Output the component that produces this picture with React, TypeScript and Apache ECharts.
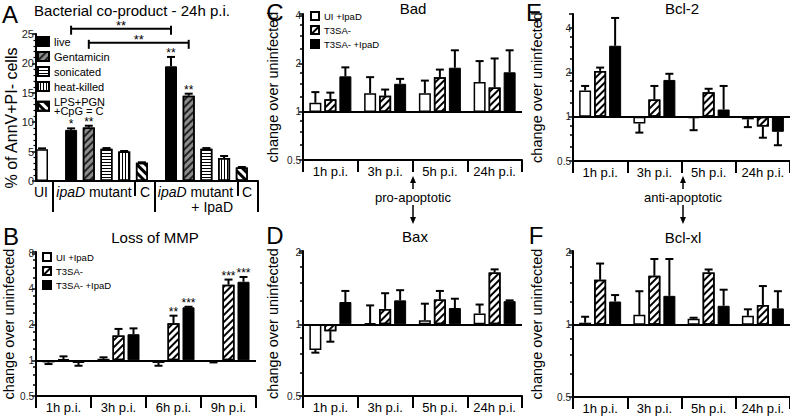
import React, { useEffect, useRef } from 'react';
import * as echarts from 'echarts';

const FONT = '"Liberation Sans", Arial, Helvetica, sans-serif';

// ---------------- Panel A : Bacterial co-product - 24h p.i. ----------------
const aLegendNames = ['live', 'Gentamicin', 'sonicated', 'heat-killed', 'LPS+PGN\n+CpG = C'];
const aUI = [5.4];
const aUIErr = [0.15];
// each treatment: [ipaD mutant, ipaD mutant + IpaD]
const aLive = [8.7, 19.5];
const aLiveErr = [0.25, 1.6];
const aLiveStars = ['*', '**'];
const aGent = [9.1, 14.5];
const aGentErr = [0.3, 0.35];
const aGentStars = ['**', '**'];
const aSonic = [5.5, 5.5];
const aSonicErr = [0.1, 0.1];
const aHeat = [5.0, 3.9];
const aHeatErr = [0.1, 0.35];
const aCtrl = [3.1, 2.3];
const aCtrlErr = [0.08, 0.08];
const aBracketStars = ['**', '**'];

// ---------------- Panels B-F ----------------
const seriesNames = ['UI +IpaD', 'T3SA-', 'T3SA- +IpaD'];
const timesB = ['1h p.i.', '3h p.i.', '6h p.i.', '9h p.i.'];
const timesCF = ['1h p.i.', '3h p.i.', '5h p.i.', '24h p.i.'];

// B: Loss of MMP
const bUI = [0.96, 1.03, 0.95, 0.97];
const bUIErr = [0.03, 0.03, 0.05, 0.01];
const bT3 = [1.02, 1.62, 2.05, 4.35];
const bT3Err = [0.06, 0.22, 0.33, 0.45];
const bT3Stars = ['', '', '**', '***'];
const bT3I = [0.95, 1.66, 2.8, 4.6];
const bT3IErr = [0.05, 0.2, 0.03, 0.45];
const bT3IStars = ['', '', '***', '***'];

// C: Bad
const cUI = [1.14, 1.31, 1.31, 1.54];
const cUIErr = [0.19, 0.34, 0.26, 0.54];
const cT3 = [1.2, 1.26, 1.65, 1.42];
const cT3Err = [0.12, 0.12, 0.19, 0.74];
const cT3I = [1.67, 1.5, 1.89, 1.77];
const cT3IErr = [0.23, 0.11, 0.54, 0.66];

// D: Bax
const dUI = [0.78, 1.01, 1.04, 1.11];
const dUIErr = [0.02, 0.19, 0.18, 0.1];
const dT3 = [0.935, 1.16, 1.27, 1.65];
const dT3Err = [0.09, 0.19, 0.11, 0.05];
const dT3I = [1.24, 1.26, 1.17, 1.25];
const dT3IErr = [0.14, 0.13, 0.11, 0.01];

// E: Bcl-2
const eUI = [1.51, 0.9, 0.98, 0.96];
const eUIErr = [0.11, 0.12, 0.17, 0.11];
const eT3 = [2.05, 1.31, 1.47, 0.86];
const eT3Err = [0.11, 0.31, 0.08, 0.14];
const eT3I = [3.04, 1.78, 1.12, 0.79];
const eT3IErr = [1.66, 0.18, 0.5, 0.15];

// F: Bcl-xl
const fUI = [1.02, 1.1, 1.06, 1.09];
const fUIErr = [0.06, 0.28, 0.01, 0.07];
const fT3 = [1.54, 1.6, 1.65, 1.21];
const fT3Err = [0.26, 0.28, 0.05, 0.24];
const fT3I = [1.25, 1.32, 1.2, 1.17];
const fT3IErr = [0.08, 0.56, 0.2, 0.21];

// ---------------- styles / layout ----------------
const hatch = (rotation: number, w: number, gap: number, color = '#000') => ({
  symbol: 'rect',
  symbolSize: 1,
  color,
  dashArrayX: [1, 0],
  dashArrayY: [w, gap],
  rotation,
});
const S_WHITE = { color: '#fff', borderColor: '#000', borderWidth: 1.5 };
const S_BLACK = { color: '#000', borderColor: '#000', borderWidth: 1 };
const S_HATCH = { color: '#fff', borderColor: '#000', borderWidth: 1.5, decal: hatch(-Math.PI / 4, 1.4, 2.6) };
const S_GENT = { color: '#8c8c8c', borderColor: '#000', borderWidth: 1.5, decal: hatch(-Math.PI / 4, 1.4, 2.6, '#222') };
const S_SONIC = { color: '#fff', borderColor: '#000', borderWidth: 1.5, decal: hatch(0, 1, 1.6) };
const S_HEAT = { color: '#fff', borderColor: '#000', borderWidth: 1.5, decal: hatch(Math.PI / 2, 1, 1.6) };
const S_CTRL = { color: '#fff', borderColor: '#000', borderWidth: 1.5, decal: hatch(Math.PI / 4, 2.4, 2.6) };

const A_X_MAX = 74;
const A_UI_X = 2;
const A_GROUP_X = [11.7, 45];
const A_STEP = 5.9;
const BAR_W = 12;
const BAR_STEP = 15;
const CAP = 4;
const STAR_DROP = 2;
const STAR_SIZE = 12;

const LINE = { color: '#000', width: 2 };

function buildOption() {
  const series: any[] = [];

  // ---- Panel A bars (single series on numeric x axis) ----
  const aTreat = [
    { vals: aLive, errs: aLiveErr, stars: aLiveStars, style: S_BLACK },
    { vals: aGent, errs: aGentErr, stars: aGentStars, style: S_GENT },
    { vals: aSonic, errs: aSonicErr, stars: null, style: S_SONIC },
    { vals: aHeat, errs: aHeatErr, stars: null, style: S_HEAT },
    { vals: aCtrl, errs: aCtrlErr, stars: null, style: S_CTRL },
  ];
  const aItems: any[] = [{ x: A_UI_X, v: aUI[0], e: aUIErr[0], star: '', style: S_WHITE }];
  A_GROUP_X.forEach((gx, g) => {
    aTreat.forEach((t, k) => {
      aItems.push({ x: gx + k * A_STEP, v: t.vals[g], e: t.errs[g], star: t.stars ? t.stars[g] : '', style: t.style });
    });
  });
  series.push({
    type: 'bar',
    name: 'A',
    xAxisIndex: 0,
    yAxisIndex: 0,
    barWidth: BAR_W,
    silent: true,
    data: aItems.map((it) => ({ value: [it.x, it.v], itemStyle: it.style })),
  });
  series.push({
    type: 'custom',
    xAxisIndex: 0,
    yAxisIndex: 0,
    silent: true,
    z: 5,
    data: aItems.map((it) => [it.x, it.v, it.e]),
    renderItem: (params: any, api: any) => {
      const x0 = api.value(0), v = api.value(1), e = api.value(2);
      const p0 = api.coord([x0, v]);
      const p1 = api.coord([x0, v + e]);
      const x = p0[0];
      const children: any[] = [
        { type: 'line', shape: { x1: x, y1: p0[1], x2: x, y2: p1[1] }, style: { stroke: '#000', lineWidth: 2 } },
        { type: 'line', shape: { x1: x - CAP, y1: p1[1], x2: x + CAP, y2: p1[1] }, style: { stroke: '#000', lineWidth: 2 } },
      ];
      const star = aItems[params.dataIndex].star;
      if (star) {
        children.push({
          type: 'text', x, y: p1[1] + STAR_DROP,
          style: { text: star, fontSize: STAR_SIZE, fontFamily: FONT, fill: '#000', align: 'center', verticalAlign: 'bottom' },
        });
      }
      return { type: 'group', children };
    },
  });
  // comparison brackets live vs live, gent vs gent
  const bracketData = [
    [A_GROUP_X[0], 25.9, A_GROUP_X[1]],
    [A_GROUP_X[0] + A_STEP, 23.5, A_GROUP_X[1] + A_STEP],
  ];
  series.push({
    type: 'custom',
    xAxisIndex: 0,
    yAxisIndex: 0,
    silent: true,
    clip: false,
    z: 5,
    data: bracketData,
    renderItem: (params: any, api: any) => {
      const p1 = api.coord([api.value(0), api.value(1)]);
      const p2 = api.coord([api.value(2), api.value(1)]);
      const y = p1[1];
      return {
        type: 'group',
        children: [
          { type: 'line', shape: { x1: p1[0], y1: y, x2: p2[0], y2: y }, style: { stroke: '#000', lineWidth: 2 } },
          { type: 'line', shape: { x1: p1[0], y1: y - 3, x2: p1[0], y2: y + 6 }, style: { stroke: '#000', lineWidth: 2 } },
          { type: 'line', shape: { x1: p2[0], y1: y - 3, x2: p2[0], y2: y + 6 }, style: { stroke: '#000', lineWidth: 2 } },
          {
            type: 'text', x: (p1[0] + p2[0]) / 2, y: y + STAR_DROP + 1,
            style: { text: aBracketStars[params.dataIndex], fontSize: STAR_SIZE + 1, fontFamily: FONT, fill: '#000', align: 'center', verticalAlign: 'bottom' },
          },
        ],
      };
    },
  });
  // legend-only series for panel A (hidden grid)
  [S_BLACK, S_GENT, S_SONIC, S_HEAT, S_CTRL].forEach((st, k) => {
    series.push({ type: 'bar', name: aLegendNames[k], xAxisIndex: 6, yAxisIndex: 6, data: [], itemStyle: st });
  });

  // ---- Panels B-F ----
  const panels = [
    { grid: 1, vals: [bUI, bT3, bT3I], errs: [bUIErr, bT3Err, bT3IErr], stars: [null, bT3Stars, bT3IStars] },
    { grid: 2, vals: [cUI, cT3, cT3I], errs: [cUIErr, cT3Err, cT3IErr], stars: [null, null, null] },
    { grid: 3, vals: [dUI, dT3, dT3I], errs: [dUIErr, dT3Err, dT3IErr], stars: [null, null, null] },
    { grid: 4, vals: [eUI, eT3, eT3I], errs: [eUIErr, eT3Err, eT3IErr], stars: [null, null, null] },
    { grid: 5, vals: [fUI, fT3, fT3I], errs: [fUIErr, fT3Err, fT3IErr], stars: [null, null, null] },
  ];
  const styles = [S_WHITE, S_HATCH, S_BLACK];
  panels.forEach((p) => {
    p.vals.forEach((vs, k) => {
      series.push({
        type: 'bar',
        name: seriesNames[k],
        xAxisIndex: p.grid,
        yAxisIndex: p.grid,
        barWidth: BAR_W,
        barGap: '25%',
        silent: true,
        itemStyle: styles[k],
        data: vs,
        markLine: k === 0 ? {
          silent: true,
          symbol: 'none',
          label: { show: false },
          lineStyle: { color: '#000', width: 2, type: 'solid' },
          data: [{ yAxis: 1 }],
        } : undefined,
      });
    });
    p.vals.forEach((vs, k) => {
      const errs = p.errs[k];
      const stars = p.stars[k];
      series.push({
        type: 'custom',
        xAxisIndex: p.grid,
        yAxisIndex: p.grid,
        silent: true,
        z: 5,
        data: vs.map((v, i) => [i, v, errs[i]]),
        renderItem: (params: any, api: any) => {
          const i = api.value(0), v = api.value(1), e = api.value(2);
          const up = v >= 1;
          const p0 = api.coord([i, v]);
          const p1 = api.coord([i, up ? v + e : v - e]);
          const x = p0[0] + (k - 1) * BAR_STEP;
          const children: any[] = [
            { type: 'line', shape: { x1: x, y1: p0[1], x2: x, y2: p1[1] }, style: { stroke: '#000', lineWidth: 2 } },
            { type: 'line', shape: { x1: x - CAP, y1: p1[1], x2: x + CAP, y2: p1[1] }, style: { stroke: '#000', lineWidth: 2 } },
          ];
          const star = stars ? stars[params.dataIndex] : '';
          if (star) {
            children.push({
              type: 'text', x, y: p1[1] + STAR_DROP,
              style: { text: star, fontSize: STAR_SIZE, fontFamily: FONT, fill: '#000', align: 'center', verticalAlign: 'bottom' },
            });
          }
          return { type: 'group', children };
        },
      });
    });
  });

  const grids = [
    { left: 36, top: 34, width: 222, height: 147 },
    { left: 36, top: 252, width: 220, height: 144 },
    { left: 303, top: 14, width: 219, height: 146 },
    { left: 303, top: 251, width: 219, height: 145 },
    { left: 573, top: 14, width: 217, height: 147 },
    { left: 573, top: 251, width: 217, height: 146 },
    { left: 0, top: 0, width: 1, height: 1, show: false },
  ].map((g) => ({ ...g, containLabel: false, outerBoundsMode: 'none' }));

  const catX = (gridIndex: number, data: string[]) => ({
    type: 'category',
    gridIndex,
    data,
    axisLine: { show: true, onZero: false, lineStyle: LINE },
    axisTick: { show: true, length: 12, interval: 0, lineStyle: LINE },
    axisLabel: { show: true, interval: 0, fontSize: 13, color: '#000', fontFamily: FONT, margin: 5 },
    splitLine: { show: false },
  });
  // label only exact powers of two
  const logFmt = (v: number) => {
    const l = Math.log2(v);
    const r = Math.round(l);
    return Math.abs(l - r) < 0.01 ? String(Math.pow(2, r)) : '';
  };
  const logY = (gridIndex: number, min: number, max: number, nameGap: number) => ({
    type: 'log',
    logBase: 2,
    gridIndex,
    min,
    max,
    name: 'change over uninfected',
    nameLocation: 'middle',
    nameGap,
    nameTextStyle: { fontSize: 14.5, fontFamily: FONT, color: '#000' },
    axisLine: { show: true, onZero: false, lineStyle: LINE },
    axisTick: { show: true, length: 4, lineStyle: { color: '#000', width: 1.5 } },
    minorTick: { show: true, splitNumber: 4, length: 3, lineStyle: { color: '#000', width: 1.5 } },
    axisLabel: {
      fontSize: 10, color: '#222', fontFamily: FONT, margin: 2, formatter: logFmt,
      showMaxLabel: false, showMinLabel: true, hideOverlap: false,
    },
    splitLine: { show: false },
    minorSplitLine: { show: false },
  });

  const xAxis = [
    {
      type: 'value', gridIndex: 0, min: 0, max: A_X_MAX,
      axisLine: { show: true, onZero: false, lineStyle: LINE },
      axisTick: { show: false }, axisLabel: { show: false }, splitLine: { show: false },
    },
    catX(1, timesB),
    catX(2, timesCF),
    catX(3, timesCF),
    catX(4, timesCF),
    catX(5, timesCF),
    { type: 'category', gridIndex: 6, show: false, data: ['x'] },
  ];
  const yAxis = [
    {
      type: 'value', gridIndex: 0, min: 0, max: 25, interval: 5,
      axisLine: { show: true, onZero: false, lineStyle: LINE },
      axisTick: { show: true, length: 4, lineStyle: { color: '#000', width: 1.5 } },
      minorTick: { show: true, splitNumber: 5, length: 2.5, lineStyle: { color: '#000', width: 1.2 } },
      axisLabel: { fontSize: 11, color: '#222', fontFamily: FONT, margin: 2, showMaxLabel: true, showMinLabel: true },
      splitLine: { show: false },
    },
    logY(1, 0.5, 8.2, 20),
    logY(2, 0.5, 4.1, 23),
    logY(3, 0.5, 2.03, 23),
    logY(4, 0.5, 5, 29),
    logY(5, 0.5, 2.03, 29),
    { type: 'value', gridIndex: 6, show: false },
  ];

  const legendBase = {
    orient: 'vertical',
    padding: 0,
    icon: 'rect',
    selectedMode: false,
  };
  const legend = [
    {
      ...legendBase, left: 37, top: 36, itemWidth: 11, itemHeight: 9, itemGap: 4,
      data: aLegendNames,
      textStyle: { fontSize: 11, fontFamily: FONT, color: '#000', lineHeight: 9.5 },
    },
    {
      ...legendBase, left: 42, top: 252, itemWidth: 8, itemHeight: 8, itemGap: 4,
      data: seriesNames,
      textStyle: { fontSize: 9.5, fontFamily: FONT, color: '#000', lineHeight: 9 },
    },
    {
      ...legendBase, left: 310, top: 11, itemWidth: 8, itemHeight: 8, itemGap: 4,
      data: seriesNames,
      textStyle: { fontSize: 9.5, fontFamily: FONT, color: '#000', lineHeight: 9 },
    },
  ];

  const T = (text: string, x: number, y: number, size: number, extra: any = {}) => ({
    type: 'text', x, y, silent: true,
    ...(extra.rotation ? { rotation: extra.rotation } : {}),
    style: {
      text, fontSize: size, fontFamily: FONT, fill: extra.fill || '#000',
      align: extra.align || 'center', verticalAlign: 'middle',
      textAlign: extra.align || 'center', textVerticalAlign: 'middle',
      ...(extra.rich ? { rich: extra.rich } : {}),
    },
  });
  const L = (x1: number, y1: number, x2: number, y2: number, w = 2) => ({
    type: 'line', silent: true, shape: { x1, y1, x2, y2 }, style: { stroke: '#000', lineWidth: w },
  });
  const arrow = (x: number, label: string) => [
    L(x, 181, x, 189, 1.5),
    { type: 'polygon', silent: true, shape: { points: [[x, 176], [x - 3, 183], [x + 3, 183]] }, style: { fill: '#000' } },
    T(label, x, 197, 13),
    L(x, 205, x, 218, 1.5),
    { type: 'polygon', silent: true, shape: { points: [[x, 224], [x - 3, 217], [x + 3, 217]] }, style: { fill: '#000' } },
  ];
  const italicRich = {
    i: { fontStyle: 'italic', fontSize: 14, fontFamily: FONT, fill: '#000' },
    n: { fontSize: 14, fontFamily: FONT, fill: '#000' },
  };

  const graphic = [
    // panel letters
    T('A', 10, 14, 24), T('B', 11, 236, 24), T('C', 275, 12, 24),
    T('D', 275, 235, 24), T('E', 534, 12, 24), T('F', 536, 235, 24),
    // titles
    T('Bacterial co-product - 24h p.i.', 132, 10, 15),
    T('Loss of MMP', 155, 237, 15),
    T('Bad', 413, 8, 15),
    T('Bax', 415, 236, 15),
    T('Bcl-2', 682, 8, 15),
    T('Bcl-xl', 683, 237, 15),
    // panel A y-axis name
    T('% of AnnV+PI- cells', 11, 118, 16, { rotation: Math.PI / 2 }),
    // panel A group labels
    T('UI', 41, 192, 14),
    T('{i|ipaD}{n| mutant}', 94, 192, 14, { rich: italicRich }),
    T('C', 145, 192, 14),
    T('{i|ipaD}{n| mutant}', 195.5, 192, 14, { rich: italicRich }),
    T('+ IpaD', 233, 207, 14, { align: 'right' }),
    T('C', 247, 192, 14),
    L(53, 181, 53, 212), L(155, 181, 155, 212), L(258, 181, 258, 212),
    L(135, 181, 135, 196), L(238, 181, 238, 196),
    ...arrow(413, 'pro-apoptotic'),
    ...arrow(683, 'anti-apoptotic'),
  ];

  return {
    animation: false,
    backgroundColor: '#fff',
    textStyle: { fontFamily: FONT },
    tooltip: { show: false },
    grid: grids,
    xAxis,
    yAxis,
    legend,
    series,
    graphic: { elements: graphic },
  };
}

export default function App() {
  const ref = useRef<HTMLDivElement>(null);
  useEffect(() => {
    document.body.style.margin = '0';
    const chart = echarts.init(ref.current as HTMLDivElement, null, { renderer: 'svg', width: 790, height: 417 });
    chart.setOption(buildOption() as any);
    return () => {
      chart.dispose();
    };
  }, []);
  return <div ref={ref} style={{ width: 790, height: 417, position: 'absolute', left: 0, top: 0 }} />;
}
